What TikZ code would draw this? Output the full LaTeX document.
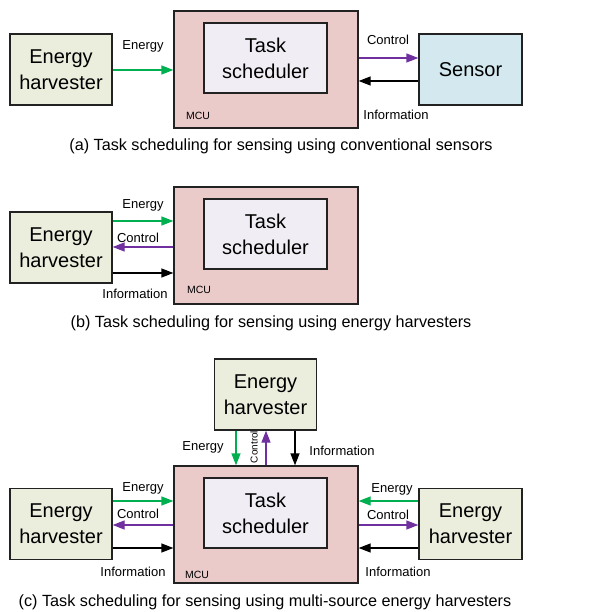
\documentclass[tikz,border=0pt]{standalone}
\usepackage{fontspec}
\setmainfont{Liberation Sans}
\usetikzlibrary{arrows.meta}
\definecolor{ehfill}{HTML}{EBEEDD}
\definecolor{mcufill}{HTML}{EBCACA}
\definecolor{tsfill}{HTML}{F0EEF4}
\definecolor{sensfill}{HTML}{D3E9EF}
\definecolor{egreen}{HTML}{00B050}
\definecolor{cpurple}{HTML}{7030A0}
\definecolor{edge}{HTML}{222222}
\tikzset{
  box/.style={draw=edge, line width=1.3pt, inner sep=0pt, align=center,
    font=\fontsize{20}{26}\selectfont},
  ehbox/.style={box, fill=ehfill, minimum width=102pt, minimum height=71pt},
  sensbox/.style={box, fill=sensfill, minimum width=103pt, minimum height=71pt},
  mcubox/.style={box, fill=mcufill, minimum width=184pt, minimum height=117pt},
  tsbox/.style={box, fill=tsfill, minimum width=123pt, minimum height=70pt},
  lbl/.style={font=\fontsize{13}{15}\selectfont, inner sep=0pt},
  mculbl/.style={font=\fontsize{10.5}{12}\selectfont, inner sep=0pt},
  captxt/.style={font=\fontsize{16.2}{19}\selectfont, inner sep=0pt},
  conn/.style={line width=1.3pt, -{Triangle[length=12pt,width=9pt]}},
  garrow/.style={conn, draw=egreen, fill=egreen},
  parrow/.style={conn, draw=cpurple, fill=cpurple},
  karrow/.style={conn, draw=black, fill=black},
}
\begin{document}
\begin{tikzpicture}[x=1pt,y=-1pt]
\useasboundingbox (0,0) rectangle (616,612);
% ---------- (a)
\node[mcubox] (mcuA) at (266,69.5) {};
\node[tsbox] (tsA) at (265.5,58) {Task\\scheduler};
\node[mculbl] (mculA) at (198,116) {MCU};
\node[ehbox] (ehA) at (61,69.5) {Energy\\harvester};
\node[sensbox] (sensA) at (470.5,69.5) {Sensor};
\draw[garrow] (ehA.east |- 0,70) -- (mcuA.west |- 0,70);
\draw[parrow] (mcuA.east |- 0,58) -- (sensA.west |- 0,58);
\draw[karrow] (sensA.west |- 0,81) -- (mcuA.east |- 0,81);
\node[lbl] (eA) at (143,46) {Energy};
\node[lbl] (cA) at (388,40) {Control};
\node[lbl] (iA) at (396,115) {Information};
\node[captxt] (capA) at (281,146) {(a) Task scheduling for sensing using conventional sensors};
% ---------- (b)
\node[mcubox] (mcuB) at (266,245.5) {};
\node[tsbox] (tsB) at (265.5,234) {Task\\scheduler};
\node[mculbl] (mculB) at (199,290) {MCU};
\node[ehbox] (ehB) at (61,247.5) {Energy\\harvester};
\draw[garrow] (ehB.east |- 0,221) -- (mcuB.west |- 0,221);
\draw[parrow] (mcuB.west |- 0,247) -- (ehB.east |- 0,247);
\draw[karrow] (ehB.east |- 0,273) -- (mcuB.west |- 0,273);
\node[lbl] (eB) at (143,205) {Energy};
\node[lbl] (cB) at (138,238) {Control};
\node[lbl] (iB) at (135,294) {Information};
\node[captxt] (capB) at (271,323) {(b) Task scheduling for sensing using energy harvesters};
% ---------- (c)
\node[mcubox] (mcuC) at (266,524.5) {};
\node[tsbox] (tsC) at (265.5,513) {Task\\scheduler};
\node[mculbl] (mculC) at (197,575) {MCU};
\node[ehbox] (ehT) at (265.5,394.5) {Energy\\harvester};
\node[ehbox] (ehL) at (61,524) {Energy\\harvester};
\node[sensbox, fill=ehfill] (ehR) at (470.5,524) {Energy\\harvester};
% top
\draw[garrow] (ehT.south -| 236,0) -- (mcuC.north -| 236,0);
\draw[parrow] (mcuC.north -| 266,0) -- (ehT.south -| 266,0);
\draw[karrow] (ehT.south -| 295,0) -- (mcuC.north -| 295,0);
\node[lbl] (eT) at (203,447) {Energy};
\node[font=\fontsize{10}{12}\selectfont, inner sep=0pt, rotate=90] (cT) at (254,447) {Control};
\node[lbl] (iT) at (342,451) {Information};
% left
\draw[garrow] (ehL.east |- 0,501) -- (mcuC.west |- 0,501);
\draw[parrow] (mcuC.west |- 0,525) -- (ehL.east |- 0,525);
\draw[karrow] (ehL.east |- 0,548) -- (mcuC.west |- 0,548);
\node[lbl] (eL) at (143,488) {Energy};
\node[lbl] (cL) at (138,514) {Control};
\node[lbl] (iL) at (133,572) {Information};
% right
\draw[garrow] (ehR.west |- 0,501) -- (mcuC.east |- 0,501);
\draw[parrow] (mcuC.east |- 0,525) -- (ehR.west |- 0,525);
\draw[karrow] (ehR.west |- 0,548) -- (mcuC.east |- 0,548);
\node[lbl] (eR) at (392,489) {Energy};
\node[lbl] (cR) at (388,515) {Control};
\node[lbl] (iR) at (398,572) {Information};
\node[captxt] (capC) at (265,602) {(c) Task scheduling for sensing using multi-source energy harvesters};
\end{tikzpicture}
\end{document}
